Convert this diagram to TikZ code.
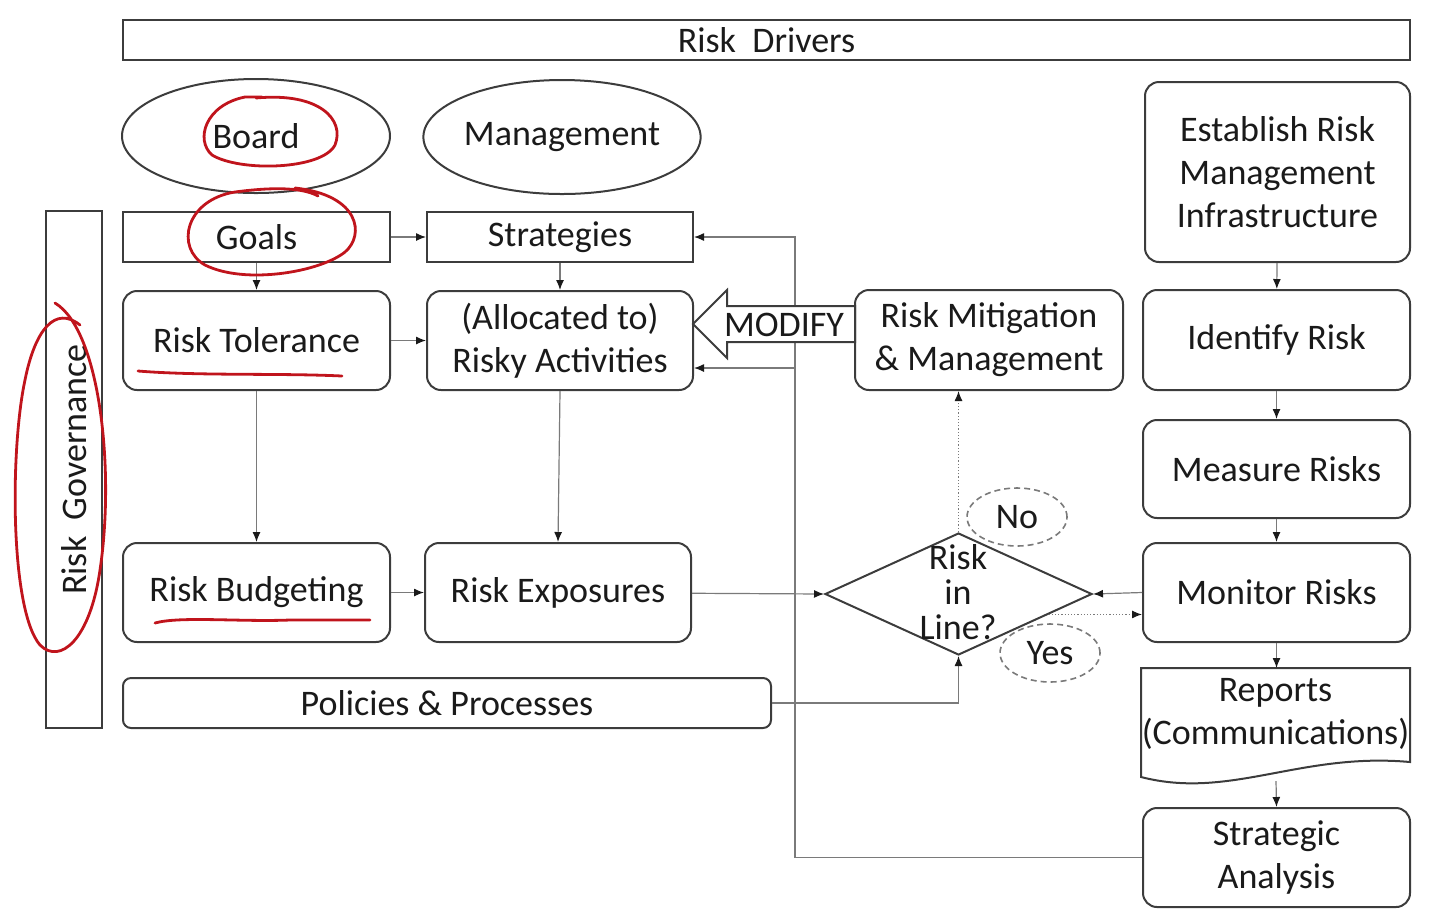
\documentclass[tikz,border=0pt]{standalone}
\usepackage{fontspec}
\setmainfont{Carlito}
\usetikzlibrary{shapes.geometric, arrows.meta, calc}
\definecolor{boxgray}{HTML}{3C3C3C}
\definecolor{linegray}{HTML}{7A7A7A}
\definecolor{textgray}{HTML}{1A1A1A}
\definecolor{markred}{HTML}{C0141C}

\begin{document}
\begin{tikzpicture}[x=0.5pt, y=-0.5pt, >={Latex[length=5pt,width=4pt,color=textgray]}, font=\fontsize{18}{21.5}\selectfont]
  \tikzstyle{box} = [draw=boxgray, line width=1pt, rectangle, inner sep=0pt, align=center, text=textgray]
  \tikzstyle{rbox} = [box, rounded corners=7pt]
  \tikzstyle{oval} = [box, ellipse]
  \tikzstyle{decision} = [box, diamond]
  \tikzstyle{answer} = [draw=linegray, dashed, dash pattern=on 3pt off 2pt, line width=0.8pt, ellipse, inner sep=0pt, text=textgray]
  \tikzstyle{line} = [draw=linegray, line width=0.6pt]
  \tikzstyle{redmark} = [draw=markred, line width=1.4pt, line cap=round]
  \useasboundingbox (0,0) rectangle (1433,912);

  \node [box, minimum width=643.5pt, minimum height=20pt] (drivers) at (766.5,40) {Risk~~Drivers};
  \node [oval, minimum width=134pt, minimum height=57pt] (board) at (256,136) {Board};
  \node [oval, minimum width=133pt, minimum height=57pt] (mgmt) at (562,137) {Management};
  \node [box, minimum width=133.5pt, minimum height=25pt] (goals) at (256.5,237) {Goals};
  \node [box, minimum width=133pt, minimum height=25pt] (strat) at (560,237) {Strategies};
  \node [rbox, minimum width=133.5pt, minimum height=49.5pt] (tol) at (256.5,340.5) {Risk Tolerance};
  \node [rbox, minimum width=133pt, minimum height=49.5pt] (alloc) at (560,340.5) {(Allocated to)\\Risky Activities};
  \node [rbox, minimum width=133.5pt, minimum height=49.5pt] (budg) at (256.5,592.5) {Risk Budgeting};
  \node [rbox, minimum width=133pt, minimum height=49.5pt] (expo) at (558,592.5) {Risk Exposures};
  \node [box, rounded corners=4pt, minimum width=324pt, minimum height=25pt] (policies) at (447,703) {Policies \& Processes};
  \node [box, rotate=90, minimum width=258.5pt, minimum height=28pt] (gov) at (74,469.5) {Risk~~Governance};

  \node [rbox, minimum width=134pt, minimum height=50pt] (mitig) at (989,340) {Risk Mitigation\\\& Management};
  \node [rbox, minimum width=132.5pt, minimum height=90pt] (estab) at (1277.5,172) {Establish Risk\\Management\\Infrastructure};
  \node [rbox, minimum width=133.5pt, minimum height=50pt] (ident) at (1276.5,340) {Identify Risk};
  \node [rbox, minimum width=133.5pt, minimum height=49pt] (meas) at (1276.5,469) {Measure Risks};
  \node [rbox, minimum width=133.5pt, minimum height=49.5pt] (monit) at (1276.5,592.5) {Monitor Risks};
  \node [align=center, text=textgray, inner sep=0pt] (reports) at (1275.5,714) {Reports\\(Communications)};
  \node [rbox, minimum width=133.5pt, minimum height=49.5pt] (analysis) at (1276.5,857.5) {Strategic\\Analysis};

  \node [decision, minimum width=133.5pt, minimum height=61pt] (dec) at (958.5,594) {};
  \node [align=center, text=textgray, font=\fontsize{18}{17.5}\selectfont] (dectext) at (958,592) {Risk\\in\\Line?};
  \node [answer, minimum width=50pt, minimum height=29pt] (no) at (1017,517) {No};
  \node [answer, minimum width=50pt, minimum height=29pt] (yes) at (1050,653) {Yes};

  % reports document shape
  \draw [draw=boxgray, line width=1pt] (1141,668) -- (1410,668) -- (1410,762)
    .. controls (1300,752) and (1230,800) .. (1141,777) -- cycle;
  \coordinate (repbot) at (1276,781);

  % left flow
  \draw [line, ->] (goals) -- (strat);
  \draw [line, ->] (goals) -- (tol);
  \draw [line, ->] (strat) -- (alloc);
  \draw [line, ->] (tol) -- (alloc);
  \draw [line, ->] (tol) -- (budg);
  \draw [line, ->] (alloc.south) -- (expo.north);
  \draw [line, ->] (budg) -- (expo);
  \draw [line, ->] (expo) -- (dec.west);
  \draw [line, ->] (monit.west) -- (dec.east);
  \draw [line, ->] (policies.east) -| (dec.south);

  % feedback from analysis
  \coordinate (bus) at (795,237);
  \coordinate (tap) at (795,368);
  \draw [line, ->] (analysis.west) -| (bus) -- (strat.east);
  \draw [line, ->] (tap) -- (tap -| alloc.east);

  % decision outcomes
  \coordinate (yesout) at ($(dec.east)!0.33!(dec.south)$);
  \draw [line, densely dotted, ->] (yesout) -- (yesout -| monit.west);
  \draw [line, densely dotted, ->] (dec.north) -- (dec.north |- mitig.south);

  % right column
  \draw [line, ->] (estab) -- (ident);
  \draw [line, ->] (ident) -- (meas);
  \draw [line, ->] (meas) -- (monit);
  \draw [line, ->] (monit.south) -- (monit.south |- 0,668);
  \draw [line, ->] (repbot) -- (analysis.north);

  % modify arrow
  \draw [draw=boxgray, line width=1pt, fill=white] (693,324) -- (727,290) -- (727,306) -- (855,306)
    -- (855,342) -- (727,342) -- (727,358) -- cycle;
  \node [text=textgray] (modify) at (784,325) {MODIFY};

  % red marks
  \draw [redmark] (256,98) .. controls (320,92) and (345,120) .. (335,145)
    .. controls (322,170) and (240,172) .. (212,155)
    .. controls (195,140) and (205,105) .. (245,97) -- (262,97);
  \draw [redmark] (295,188) .. controls (360,195) and (365,235) .. (345,252)
    .. controls (320,272) and (245,285) .. (205,265)
    .. controls (175,248) and (185,200) .. (235,192)
    .. controls (265,188) and (300,186) .. (318,196);
  \draw [redmark] (138,371) .. controls (200,376) and (280,373) .. (342,376);
  \draw [redmark] (155,623) .. controls (180,616) and (240,622) .. (290,620) -- (370,620);
  \draw [redmark] (55,303) .. controls (100,330) and (115,470) .. (100,570)
    .. controls (90,640) and (60,665) .. (40,645)
    .. controls (10,610) and (10,450) .. (25,380)
    .. controls (35,330) and (55,305) .. (80,325);
\end{tikzpicture}
\end{document}
